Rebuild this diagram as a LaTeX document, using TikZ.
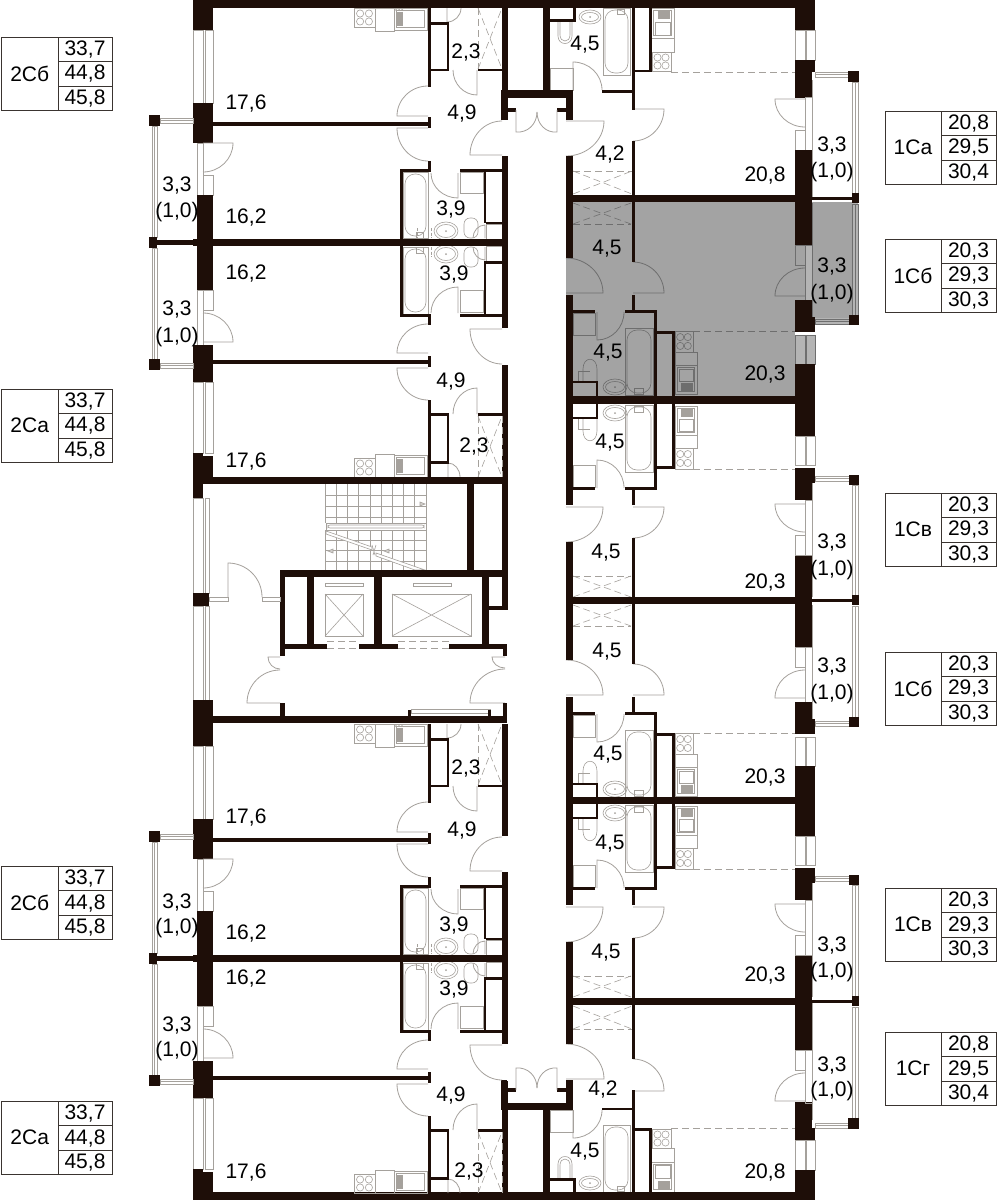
\documentclass[tikz,border=0pt]{standalone}
\usepackage{fontspec}
\setmainfont{Liberation Sans}
\usetikzlibrary{calc}
\definecolor{wallc}{HTML}{1E0E08}
\definecolor{fxc}{HTML}{A5A19C}
\definecolor{fxd}{HTML}{6E6E6E}
\definecolor{grayf}{HTML}{A3A3A3}
\definecolor{grayl}{HTML}{B4B4B4}
\definecolor{tblc}{HTML}{3A3430}
\tikzset{
 wallfill/.style={fill=wallc,draw=none},
 fxl/.style={draw=fxc,line width=.6pt},
 doorl/.style={draw=fxc,line width=.8pt},
 dashl/.style={draw=fxc,line width=.6pt,dash pattern=on 7pt off 4pt},
 dotl/.style={draw=fxc,line width=.6pt,dash pattern=on 3pt off 1.5pt},
 rlabel/.style={font=\fontsize{21}{24}\selectfont,text=black,inner sep=0pt},
 tlabel/.style={font=\fontsize{21}{24}\selectfont,text=black,inner sep=0pt},
 tline/.style={draw=tblc,line width=1pt}
}
\newcounter{lbl}
\newcommand\Rl[3]{\stepcounter{lbl}\node[rlabel] (r\arabic{lbl}) at (#1,#2) {#3};}
\newcommand\Wl[4]{\fill[wallfill] (#1,#2) rectangle (#3,#4);}
\newcommand\Fx[4]{\draw[fxl] (#1,#2) rectangle (#3,#4);}
\newcommand\Dr[6]{\draw[doorl] (#1,#2) -- (#3,#4) .. controls ($(#3,#4)+0.5523*(#5,#6)-0.5523*(#1,#2)$) and ($(#5,#6)+0.5523*(#3,#4)-0.5523*(#1,#2)$) .. (#5,#6);}
\newcommand\Stv[4]{\Fx{#1}{#2}{#3}{#4}%
 \pgfmathsetmacro\sxa{#1+(#3-#1)*.29}\pgfmathsetmacro\sxb{#1+(#3-#1)*.71}%
 \pgfmathsetmacro\sya{#2+(#4-#2)*.29}\pgfmathsetmacro\syb{#2+(#4-#2)*.71}%
 \foreach \px in {\sxa,\sxb}{\foreach \py in {\sya,\syb}{\draw[fxl] (\px,\py) circle[radius=3.6];}}}
\newcommand\Snk[5]{\draw[fxl] (#1,#2) rectangle (#3,#4);\pgfmathsetmacro\qa{#1+#5}\pgfmathsetmacro\qb{#2+#5}\pgfmathsetmacro\qc{#3-#5}\pgfmathsetmacro\qd{#4-#5}\draw[fxl] (\qa,\qb) rectangle (\qc,\qd);}
\newcommand\Hat[4]{\fill[fxc] (#1,#2) rectangle (#3,#4);}
\newcommand\Bth[4]{\Fx{#1}{#2}{#3}{#4}\pgfmathsetmacro\qa{#1+2}\pgfmathsetmacro\qb{#2+2}\pgfmathsetmacro\qc{#3-2}\pgfmathsetmacro\qd{#4-2}\draw[fxl,rounded corners=10pt] (\qa,\qb) rectangle (\qc,\qd);}
\newcommand\Wb[4]{\draw[fxl] (#1,#2) ellipse[x radius=#3,y radius=#4];\pgfmathsetmacro\qa{#3-2.5}\pgfmathsetmacro\qb{#4-2.5}\draw[fxl] (#1,#2) ellipse[x radius=\qa,y radius=\qb];\fill[fxc] (#1,#2) circle[radius=1];}
\newcommand\Wrd[4]{\draw[dashl] (#1,#2) -- (#3,#4) (#1,#4) -- (#3,#2);}
\newcommand\AptA{%
 \Bth{603}{8}{630}{75}
 \Wb{590}{17}{11}{7}
 \draw[fxl] (558,22) -- (558,36) .. controls (558,46) and (572,46) .. (572,36) -- (572,22);
 \draw[fxl] (560,22) -- (560,35) .. controls (560,43) and (570,43) .. (570,35) -- (570,22);
 \Fx{617}{9}{624}{14}
 \Fx{550}{68}{573}{90}
 \Dr{573}{90}{573}{62}{602}{90}
 \Dr{566}{121}{604}{121}{566}{156}
 \Dr{633}{109}{664}{109}{633}{141}
 \draw[dashl] (573,171) -- (632,171);
 \Wrd{573}{171}{632}{194}
 \Stv{652}{52}{671}{71}
 \Fx{651}{38}{674}{52}
 \Snk{651}{8}{674}{38}{2.5}
 \Hat{658}{11}{670}{19}
 \Fx{655}{22}{670}{35}
 \draw[dashl] (671,72) -- (795,72);
 \Wl{543}{8}{550}{91}\Wl{550}{19}{576}{22}\Wl{573}{8}{576}{20}
 \Wl{602}{90}{634.5}{92.5}
 \Wl{632}{8}{635}{110}\Wl{649}{8}{651.5}{72}\Wl{632}{69.5}{651}{72}
 \Wl{632}{141}{634.5}{196}
 \Wl{566}{90}{573}{120}\Wl{566}{156}{573}{196}
 \Wl{501}{90}{573}{97.5}
 \Wl{501}{90}{507}{120}
 \Wl{507}{108}{516}{112}\Wl{557}{108}{566}{112}
 \Dr{516}{110}{516}{132}{537}{112}
 \Dr{557}{110}{557}{132}{537}{112}
 \Fx{795}{30}{805}{60}\Fx{806}{30}{815}{60}
 \Wl{795}{0}{815}{30}\Wl{795}{60}{815}{72}\Wl{795}{72}{812}{98}
 \Fx{805}{97}{812}{150}\Fx{795}{130}{805}{150}
 \Dr{805}{99}{775}{99}{805}{127}
 \Wl{795}{150}{812}{196}
 \draw[fxl] (812,80) -- (812,197);
 \Fx{815}{72}{848}{77}\draw[fxl] (815,74.5) -- (848,74.5);
 \Fx{852}{82}{858}{193}\draw[fxl] (855,82) -- (855,193);
 \Wl{848}{71}{859}{82}
}
\newcommand\AptB{%
 \Fx{573}{313}{595}{335}
 \Bth{625}{328}{653}{395}
 \Wb{615}{387}{12}{8}
 \draw[fxl] (583,381) -- (583,369) .. controls (583,356) and (597,356) .. (597,369) -- (597,381);
 \draw[fxl] (578,371) -- (578,381) (578,371) -- (590,371);
 \Fx{634}{388}{643}{394}
 \Dr{597}{312}{597}{340}{624}{312}
 \Dr{566}{293}{603}{293}{566}{258}
 \Dr{633}{293}{664}{293}{633}{262}
 \draw[dashl] (573,224) -- (631,224);
 \Wrd{573}{203}{631}{224}
 \Stv{675}{331}{693}{352}
 \Fx{675}{352}{697}{365}
 \Snk{675}{365}{697}{394}{2.5}
 \Hat{681}{383}{693}{391}
 \Fx{679}{369}{693}{381}
 \draw[dashl] (693,331) -- (795,331);
 \Wl{566}{202}{573}{258}\Wl{566}{295}{573}{397}
 \Wl{631.5}{202}{634.5}{262}\Wl{631.5}{295}{634.5}{312}
 \Wl{573}{310}{595}{313}\Wl{625}{310}{657}{313}
 \Wl{653.5}{310}{656.5}{397}
 \Wl{656}{331}{675}{334}\Wl{672}{331}{674.5}{397}
 \Wl{573}{381}{598}{383}\Wl{595.5}{381}{598}{397}
 \Wl{795}{202}{812}{245}
 \Fx{805}{245}{812}{300}\Fx{795}{245}{805}{265}
 \Dr{805}{296}{775}{296}{805}{268}
 \Wl{795}{300}{812}{317}\Wl{795}{317}{815}{332}
 \Fx{795}{335}{805}{364}\Fx{806}{335}{815}{364}
 \Wl{795}{364}{815}{397}
 \draw[fxl] (812,203) -- (812,317);
 \Fx{815}{319}{849}{324}\draw[fxl] (815,321.5) -- (849,321.5);
 \Fx{852}{204}{858}{315}\draw[fxl] (855,204) -- (855,315);
 \Wl{849}{315}{859}{325}
}
\newcommand\LeftBlock{%
 \Stv{354}{8}{375}{27}\Fx{375}{8}{394}{31}\Snk{394}{8}{427}{30}{2.5}
 \Hat{397}{12}{403}{26}\foreach \dx in {396,399,402}{\fill[fxc] (\dx,10) circle[radius=1];}
 \draw[dashl] (478,8) -- (478,69) (502,8) -- (502,69);
 \Wrd{478}{8}{502}{69}
 \Dr{447}{8}{447}{22}{461}{8}
 \Dr{477}{70}{477}{95}{453}{70}
 \Wl{428}{8}{431}{87}\Wl{431}{22}{449}{24.5}\Wl{446.5}{22}{449}{71}\Wl{431}{68.5}{449}{71}
 \Wl{478}{68.5}{503}{71}
 \Dr{428}{116}{397}{116}{428}{86}
 \Dr{428}{128}{397}{128}{428}{161}
 \Dr{502}{155}{470}{155}{502}{121}
 \Wl{428}{117}{431}{128}\Wl{213}{122}{430}{125.5}
 \Wl{428}{161}{431}{171}
 \Bth{403}{172}{428}{238}\Bth{403}{247}{428}{314}
 \Wb{446}{231}{12}{9}\Wb{446}{254}{12}{9}
 \draw[fxl,rounded corners=6pt] (464,218) rectangle (478,238);
 \draw[fxl,rounded corners=6pt] (464,247) rectangle (478,267);
 \Fx{460}{172}{483}{193}\Fx{460}{290}{483}{312}
 \Fx{486}{224}{502}{239}\Fx{486}{246}{502}{261}
 \Dr{485}{238}{485}{225}{473}{238}\Dr{485}{247}{485}{260}{473}{247}
 \Fx{416}{232}{423}{238}\Fx{416}{247}{423}{253}
 \draw[dotl] (431,228) -- (431,238) (431,247) -- (431,257) (417,228) -- (417,238);
 \Dr{458}{173}{458}{198}{431}{173}
 \Dr{458}{313}{458}{287}{431}{313}
 \Wl{400}{169}{403}{240}\Wl{400}{245}{403}{316.5}
 \Wl{400}{169}{431}{171.5}\Wl{460}{169}{503}{171.5}
 \Wl{483.5}{171}{486}{223}\Wl{486}{221.5}{502}{224}
 \Wl{400}{314}{431}{316.5}\Wl{460}{314}{503}{316.5}
 \Wl{483.5}{261}{486}{315}\Wl{486}{261}{502}{263.5}
 \Wl{428}{314}{431}{325}
 \Wl{213}{239}{503}{246}
 \Dr{428}{353}{397}{353}{428}{324}
 \Dr{428}{368}{397}{368}{428}{400}
 \Dr{502}{329}{470}{329}{502}{364}
 \Wl{428}{356}{431}{367}\Wl{213}{360}{430}{363.5}
 \Wl{501.5}{8}{507.5}{120}\Wl{501.5}{156}{507.5}{328}\Wl{501.5}{365}{507.5}{484}
 \draw[dashl] (478,416) -- (478,477) (502,416) -- (502,477);
 \Wrd{478}{416}{502}{477}
 \Dr{477}{414}{477}{388}{453}{414}
 \Dr{448}{477}{448}{463}{460}{477}
 \Stv{354}{458}{375}{477}\Fx{375}{454}{394}{477}\Snk{394}{455}{427}{477}{2.5}
 \Hat{397}{459}{403}{473}
 \Wl{428}{400}{431}{477}\Wl{430}{413}{449}{416}\Wl{446.5}{413}{449}{463}\Wl{430}{461}{449}{463.5}
 \Wl{478}{413}{503}{416}
 \Fx{193}{30}{203}{103}\Fx{205}{30}{213}{103}
 \Wl{193}{0}{213}{30}\Wl{193}{103}{213}{143}
 \Fx{197}{143}{203}{195}\Fx{203}{175}{213}{195}
 \Dr{203}{143}{233}{143}{203}{172}
 \Wl{197}{195}{213}{240}\Wl{193}{239}{213}{246}\Wl{197}{246}{213}{290}
 \Fx{197}{290}{203}{345}\Fx{203}{290}{213}{310}
 \Dr{203}{342}{233}{342}{203}{313}
 \Wl{193}{345}{213}{382}
 \Fx{193}{382}{203}{453}\Fx{205}{382}{213}{453}
 \Wl{193}{453}{203}{498}\Wl{203}{456}{213}{484}
 \Fx{160}{118}{193}{123}\draw[fxl] (160,120.5) -- (193,120.5);
 \Fx{152}{126}{157}{237}\draw[fxl] (154.5,126) -- (154.5,237);
 \Fx{152}{248}{157}{359}\draw[fxl] (154.5,248) -- (154.5,359);
 \Fx{160}{363}{193}{368}\draw[fxl] (160,365.5) -- (193,365.5);
 \Wl{149}{115}{160}{126}\Wl{149}{237}{157}{248}\Wl{157}{240}{197}{245}\Wl{149}{359}{160}{370}
}
\newcommand\Tval{}
\newcommand\Tb[8]{%
 \pgfmathsetmacro\ya{#3+24.5}\pgfmathsetmacro\yb{#3+49}\pgfmathsetmacro\yc{#3+73.5}%
 \draw[tline] (#2,#3) rectangle (#5,\yc);
 \draw[tline] (#4,#3) -- (#4,\yc) (#4,\ya) -- (#5,\ya) (#4,\yb) -- (#5,\yb);
 \pgfmathsetmacro\xa{(#2+#4)/2}\pgfmathsetmacro\xb{(#4+#5)/2}\pgfmathsetmacro\ym{#3+36.7}%
 \pgfmathsetmacro\ra{#3+12.7}\pgfmathsetmacro\rb{#3+37}\pgfmathsetmacro\rc{#3+61.5}%
 \node[tlabel] (#1t) at (\xa,\ym) {#6};
 \node[tlabel] (#1a) at (\xb,\ra) {#7};
 \node[tlabel] (#1b) at (\xb,\rb) {\Tval};
 \node[tlabel] (#1c) at (\xb,\rc) {#8};}
\begin{document}
\begin{tikzpicture}[x=1pt,y=-1pt]
\useasboundingbox (0,0) rectangle (997,1200);
\fill[white] (0,0) rectangle (997,1200);
% highlighted apartment
\fill[grayf] (573,202) rectangle (795,396);
\fill[grayf] (566,258) rectangle (573,295);
\fill[grayf] (795,245) rectangle (805,300);
\fill[grayl] (805,245) rectangle (812,300);
\fill[grayf] (812,202) rectangle (852,318);
\fill[grayl] (852,202) rectangle (858,315);
\fill[grayl] (795,335) rectangle (815,365);
\fill[grayl] (815,318) rectangle (849,325);
% right wing
\begin{scope}\AptA\end{scope}
\begin{scope}
 \tikzset{
  fxl/.style={draw=fxd,line width=.6pt},
  doorl/.style={draw=fxd,line width=.8pt},
  dashl/.style={draw=fxd,line width=.6pt,dash pattern=on 7pt off 4pt}}
 \colorlet{fxc}{fxd}
 \AptB
\end{scope}
\begin{scope}[shift={(0,800)},yscale=-1]\AptB\end{scope}
\begin{scope}[shift={(0,402)}]\AptB\end{scope}
\begin{scope}[shift={(0,1200)},yscale=-1]\AptB\end{scope}
\begin{scope}[shift={(0,1200)},yscale=-1]\AptA\end{scope}
% cross walls of the right wing
\Wl{566}{195}{812}{202}\Wl{812}{197}{852}{200}\Wl{852}{193}{859}{203}
\Wl{566}{396}{815}{403.5}
\Wl{566}{597}{812}{604}\Wl{812}{599}{852}{602}\Wl{852}{595}{859}{605}
\Wl{566}{797}{815}{804}
\Wl{566}{998}{812}{1005}\Wl{812}{1000}{852}{1003}\Wl{852}{996}{859}{1006}
\Wl{193}{0}{815}{8}
\Wl{193}{1192}{815}{1200}
% left wing
\begin{scope}\LeftBlock\end{scope}
\begin{scope}[shift={(0,716)}]\LeftBlock\end{scope}
\Wl{213}{477}{507}{484}
\Wl{193}{716}{507}{723}
% lobby facade
\Fx{193}{498}{203}{593}\Fx{205}{498}{209}{593}
\Fx{193}{606}{203}{700}\Fx{205}{606}{209}{700}
\Wl{193}{593}{209}{606}
\Wl{193}{700}{213}{720}
% stairs
\foreach \sx in {325,336.2,347.4,358.6,369.8,381,392.2,403.4,414.6,426}{\draw[fxl] (\sx,484) -- (\sx,523) (\sx,530) -- (\sx,570);}
\foreach \sy in {495,506,517,540,550,561}{\draw[fxl] (325,\sy) -- (426,\sy);}
\draw[fxl,fill=white] (326,523) rectangle (426,530);\draw[fxl,rounded corners=2pt] (328,525) rectangle (424,528);
\draw[fxl,fill=white] (326,531) -- (372,547) -- (372,550) -- (326,534) -- cycle;
\draw[fxl,fill=white] (376,553) -- (425,570) -- (415,570) -- (376,556) -- cycle;
\draw[fxl] (372,545) -- (375,555) (376,545) -- (373,555);
\draw[fxl,fill=fxc!50] (420,502) -- (425,504) -- (420,506) -- cycle;
\draw[fxl,fill=fxc!50] (333,549) -- (328,551) -- (333,553) -- cycle;
\draw[fxl,fill=fxc!50] (389,549) -- (384,551) -- (389,553) -- cycle;
\Wl{467}{484}{474}{570}
% lifts
\Fx{325}{594}{363}{636}\draw[fxl] (325,594) -- (363,636) (325,636) -- (363,594);
\Fx{325}{583}{363}{586}
\Fx{392}{594}{471}{636}\draw[fxl] (392,594) -- (471,636) (392,636) -- (471,594);
\Fx{413}{583}{451}{586}
\draw[dashl] (327,641) -- (359,641) (327,648) -- (359,648) (398,641) -- (449,641) (398,648) -- (449,648);
\Wl{280}{570}{507}{577}\Wl{280}{570}{285}{656}
\Wl{307}{577}{314}{645}\Wl{374}{577}{382}{645}\Wl{482}{577}{489}{645}
\Wl{489}{606}{507}{610}\Wl{501.5}{484}{507.5}{610}
\Wl{280}{644}{327}{648.5}\Wl{359}{644}{398}{648.5}\Wl{449}{644}{507}{648.5}
\Wl{503}{644}{507}{656}
% entrance + lobby doors
\Fx{209}{597}{228}{601}\Fx{262}{597}{280}{601}
\Dr{228}{597}{228}{563}{262}{597}
\Dr{280}{657}{268}{657}{280}{669}
\Dr{280}{703}{247}{703}{280}{670}
\Dr{505}{657}{492}{657}{505}{668}
\Dr{505}{703}{470}{703}{505}{669}
\Wl{280}{703}{285}{716}\Wl{503}{703}{507}{716}
\Fx{411}{709}{490}{713}\Wl{408}{710}{411}{716}\Wl{488}{710}{491}{716}
% room areas, left wing
\Rl{246}{104}{17,6}\Rl{462}{114}{4,9}\Rl{466}{53}{2,3}\Rl{246}{218}{16,2}\Rl{451}{210}{3,9}
\Rl{177}{186}{3,3}\Rl{177}{212}{(1,0)}\Rl{246}{274}{16,2}\Rl{454}{275}{3,9}
\Rl{177}{310}{3,3}\Rl{177}{337}{(1,0)}\Rl{451}{382}{4,9}\Rl{474}{447}{2,3}\Rl{246}{462}{17,6}
\Rl{466}{769}{2,3}\Rl{246}{818}{17,6}\Rl{462}{831}{4,9}\Rl{177}{902}{3,3}\Rl{177}{928}{(1,0)}
\Rl{246}{933}{16,2}\Rl{454}{925}{3,9}\Rl{246}{978}{16,2}\Rl{454}{989}{3,9}
\Rl{177}{1025}{3,3}\Rl{177}{1051}{(1,0)}\Rl{451}{1095}{4,9}\Rl{469}{1171}{2,3}\Rl{246}{1172}{17,6}
% room areas, right wing
\Rl{585}{45}{4,5}\Rl{610}{155}{4,2}\Rl{765}{176}{20,8}\Rl{832}{146}{3,3}\Rl{832}{172}{(1,0)}
\Rl{607}{249}{4,5}\Rl{832}{267}{3,3}\Rl{832}{294}{(1,0)}\Rl{608}{353}{4,5}\Rl{765}{375}{20,3}
\Rl{610}{443}{4,5}\Rl{606}{553}{4,5}\Rl{765}{583}{20,3}\Rl{832}{543}{3,3}\Rl{832}{570}{(1,0)}
\Rl{607}{652}{4,5}\Rl{832}{667}{3,3}\Rl{832}{694}{(1,0)}\Rl{608}{755}{4,5}\Rl{765}{778}{20,3}
\Rl{610}{844}{4,5}\Rl{606}{953}{4,5}\Rl{765}{975}{20,3}\Rl{832}{945}{3,3}\Rl{832}{972}{(1,0)}
\Rl{832}{1065}{3,3}\Rl{832}{1091}{(1,0)}\Rl{603}{1089}{4,2}\Rl{585}{1152}{4,5}\Rl{765}{1172}{20,8}
% tables
\renewcommand\Tval{44,8}
\Tb{ta}{1.5}{37}{58}{112}{2Сб}{33,7}{45,8}
\Tb{tb}{1.5}{389}{58}{112}{2Са}{33,7}{45,8}
\Tb{tc}{1.5}{866}{58}{112}{2Сб}{33,7}{45,8}
\Tb{td}{1.5}{1101}{58}{112}{2Са}{33,7}{45,8}
\renewcommand\Tval{29,5}
\Tb{te}{885}{111}{941}{996}{1Са}{20,8}{30,4}
\Tb{tj}{885}{1032}{941}{996}{1Сг}{20,8}{30,4}
\renewcommand\Tval{29,3}
\Tb{tf}{885}{239}{941}{996}{1Сб}{20,3}{30,3}
\Tb{tg}{885}{493}{941}{996}{1Св}{20,3}{30,3}
\Tb{th}{885}{652}{941}{996}{1Сб}{20,3}{30,3}
\Tb{ti}{885}{888}{941}{996}{1Св}{20,3}{30,3}
\end{tikzpicture}
\end{document}
